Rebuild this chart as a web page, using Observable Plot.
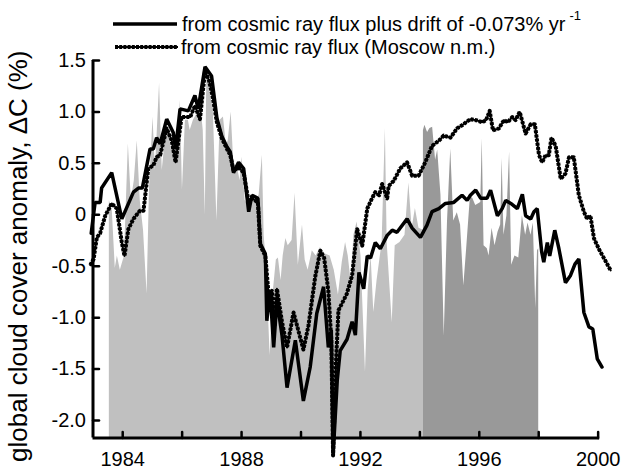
<!DOCTYPE html>
<html>
<head>
<meta charset="utf-8">
<script src="https://cdn.jsdelivr.net/npm/d3@7"></script>
<script src="https://cdn.jsdelivr.net/npm/@observablehq/plot@0.6"></script>
<style>
  html, body { margin: 0; padding: 0; background: #fff; }
  body { width: 621px; height: 470px; overflow: hidden; font-family: "Liberation Sans", Arial, sans-serif; }
  #legend { position: relative; height: 50px; width: 621px; z-index: 1; }
  #legend .row { position: absolute; left: 0; height: 22px; width: 621px; }
  #legend svg { position: absolute; left: 0; top: 0; overflow: visible; }
  #legend .label { position: absolute; font-size: 20px; line-height: 22px; color: #000; white-space: nowrap; }
  #legend sup { font-size: 13px; line-height: 0; position: relative; top: -3px; margin-left: 4px; }
</style>
</head>
<body>
<div id="legend">
  <div class="row" style="top:13px">
    <svg width="621" height="22"><line x1="113" x2="177" y1="11" y2="11" stroke="#000" stroke-width="3.5"/></svg>
    <span class="label" style="left:182px;top:0">from cosmic ray flux plus drift of -0.073% yr<sup>-1</sup></span>
  </div>
  <div class="row" style="top:36px">
    <svg width="621" height="22">
      <line x1="115" x2="178" y1="11" y2="11" stroke="#000" stroke-width="2"/>
      <line x1="115" x2="178" y1="11" y2="11" stroke="#000" stroke-width="4" stroke-dasharray="3,1.2"/>
    </svg>
    <span class="label" style="left:181px;top:0">from cosmic ray flux (Moscow n.m.)</span>
  </div>
</div>
<div id="chart"></div>
<script>
// Cloud cover anomaly (%) predicted from cosmic ray flux, with and without the drift term
const fluxPlusDrift = [
  [1982.94,-0.18],[1983.07,0.12],[1983.24,0.12],[1983.29,0.26],[1983.63,0.41],[1983.97,-0.04],
  [1984.36,0.22],[1984.53,0.26],[1984.66,0.26],[1984.92,0.64],[1985.03,0.64],[1985.14,0.75],
  [1985.26,0.69],[1985.48,0.93],[1985.70,0.80],[1985.78,0.64],[1985.93,1.03],[1986.21,1.01],
  [1986.43,1.16],[1986.54,1.03],[1986.77,1.44],[1986.99,1.35],[1987.17,0.94],[1987.34,0.76],
  [1987.51,0.66],[1987.62,0.61],[1987.73,0.41],[1987.90,0.51],[1988.07,0.45],[1988.24,0.03],
  [1988.35,0.19],[1988.55,0.16],[1988.63,-0.28],[1988.80,-0.38],[1988.85,-1.03],[1988.96,-0.74],
  [1989.08,-1.29],[1989.19,-0.83],[1989.36,-1.17],[1989.53,-1.68],[1989.81,-1.22],[1990.08,-1.81],
  [1990.31,-1.48],[1990.53,-0.96],[1990.76,-0.70],[1990.92,-1.29],[1991.02,-1.12],[1991.08,-2.34],
  [1991.22,-1.61],[1991.32,-1.32],[1991.55,-1.21],[1991.72,-1.04],[1991.83,-1.17],[1991.95,-0.56],
  [1992.11,-0.72],[1992.23,-0.40],[1992.34,-0.42],[1992.50,-0.27],[1992.67,-0.33],[1992.90,-0.20],
  [1993.07,-0.15],[1993.23,-0.17],[1993.57,-0.04],[1993.74,-0.13],[1994.02,-0.22],[1994.24,-0.10],
  [1994.41,0.03],[1994.64,0.06],[1994.86,0.11],[1995.14,0.12],[1995.42,0.19],[1995.59,0.14],
  [1995.70,0.19],[1995.88,0.24],[1996.05,0.16],[1996.26,0.16],[1996.38,0.24],[1996.61,-0.01],
  [1996.77,0.06],[1996.89,0.14],[1997.06,0.11],[1997.28,0.06],[1997.45,0.20],[1997.56,-0.01],
  [1997.73,-0.04],[1997.84,0.03],[1997.95,0.06],[1998.10,-0.36],[1998.17,-0.46],[1998.29,-0.27],
  [1998.37,-0.40],[1998.54,-0.15],[1998.68,-0.33],[1998.90,-0.66],[1999.07,-0.59],[1999.22,-0.48],
  [1999.35,-0.43],[1999.52,-0.95],[1999.69,-1.09],[1999.82,-1.11],[1999.97,-1.40],[2000.13,-1.48]
];

const fluxOnly = [
  [1982.91,-0.49],[1983.02,-0.43],[1983.13,-0.22],[1983.24,-0.18],[1983.41,-0.01],[1983.63,0.11],
  [1983.80,0.06],[1983.97,-0.27],[1984.06,-0.40],[1984.19,-0.14],[1984.36,-0.04],[1984.58,0.04],
  [1984.70,0.04],[1984.86,0.45],[1985.03,0.48],[1985.14,0.56],[1985.26,0.58],[1985.48,0.84],
  [1985.65,0.72],[1985.78,0.51],[1985.98,0.95],[1986.27,0.95],[1986.43,1.06],[1986.60,0.93],
  [1986.77,1.40],[1986.90,1.31],[1987.02,1.16],[1987.17,0.90],[1987.34,0.74],[1987.51,0.64],
  [1987.62,0.58],[1987.73,0.43],[1987.90,0.46],[1988.07,0.41],[1988.24,0.12],[1988.35,0.16],
  [1988.55,0.12],[1988.63,-0.30],[1988.80,-0.40],[1988.91,-0.78],[1989.02,-0.74],[1989.11,-1.08],
  [1989.19,-0.72],[1989.36,-1.04],[1989.53,-1.29],[1989.75,-0.95],[1990.08,-1.31],[1990.25,-1.08],
  [1990.48,-0.60],[1990.65,-0.35],[1990.78,-0.42],[1990.92,-0.74],[1991.02,-1.22],[1991.08,-2.34],
  [1991.18,-1.42],[1991.26,-0.93],[1991.54,-0.77],[1991.72,-0.59],[1991.89,-0.14],[1992.06,-0.30],
  [1992.23,0.06],[1992.39,0.16],[1992.50,0.22],[1992.63,0.19],[1992.73,0.30],[1992.90,0.16],
  [1992.95,0.28],[1993.12,0.33],[1993.34,0.45],[1993.57,0.51],[1993.74,0.38],[1993.96,0.38],
  [1994.18,0.51],[1994.41,0.67],[1994.64,0.72],[1994.80,0.77],[1995.03,0.75],[1995.25,0.84],
  [1995.42,0.87],[1995.70,0.93],[1995.89,0.92],[1996.10,0.90],[1996.23,0.92],[1996.35,1.01],
  [1996.46,0.82],[1996.66,0.84],[1996.83,0.92],[1996.96,0.90],[1997.11,0.95],[1997.22,0.92],
  [1997.36,1.00],[1997.56,0.79],[1997.73,0.88],[1997.87,0.88],[1998.01,0.58],[1998.12,0.51],
  [1998.23,0.58],[1998.34,0.58],[1998.43,0.75],[1998.57,0.67],[1998.74,0.35],[1998.90,0.40],
  [1999.02,0.56],[1999.18,0.56],[1999.35,0.19],[1999.52,0.03],[1999.63,-0.04],[1999.74,-0.01],
  [1999.86,-0.23],[2000.02,-0.33],[2000.42,-0.54]
];

// Observed cloud cover anomaly, first record (light fill)
const cloudFirst = [
  [1983.55,0.14],[1983.65,0.04],[1983.75,-0.52],[1983.82,-0.40],[1983.92,-0.54],[1984.06,-0.40],
  [1984.19,0.69],[1984.29,0.14],[1984.39,0.33],[1984.49,0.72],[1984.59,0.14],[1984.70,-0.15],
  [1984.82,-0.77],[1984.90,0.24],[1985.02,0.95],[1985.10,0.43],[1985.24,1.28],[1985.33,0.43],
  [1985.43,0.72],[1985.54,0.82],[1985.64,0.63],[1985.74,0.82],[1985.84,0.63],[1985.94,1.11],
  [1986.01,0.24],[1986.11,0.92],[1986.21,0.92],[1986.27,0.82],[1986.38,0.92],[1986.48,0.97],
  [1986.61,1.11],[1986.71,0.82],[1986.78,-0.01],[1986.83,1.38],[1986.95,1.18],[1987.05,1.01],
  [1987.17,-0.06],[1987.28,0.92],[1987.39,0.95],[1987.49,0.67],[1987.55,0.72],[1987.65,1.00],
  [1987.75,0.43],[1987.85,0.48],[1987.95,0.33],[1988.02,0.56],[1988.12,0.14],[1988.23,0.09],
  [1988.36,0.19],[1988.49,0.14],[1988.59,0.19],[1988.70,0.58],[1988.76,-0.20],[1988.85,-0.54],
  [1988.96,-1.37],[1989.07,-0.74],[1989.17,-0.44],[1989.24,-0.42],[1989.33,-0.64],[1989.40,-0.40],
  [1989.49,-0.23],[1989.57,-0.30],[1989.70,-0.25],[1989.80,0.21],[1989.91,-0.49],[1990.05,-0.10],
  [1990.14,-0.44],[1990.24,-0.54],[1990.38,-0.35],[1990.51,-0.40],[1990.65,-0.32],[1990.82,-0.38],
  [1990.98,-0.40],[1991.12,-0.54],[1991.26,-0.78],[1991.39,-0.46],[1991.50,-0.27],[1991.59,-0.40],
  [1991.69,-0.66],[1991.78,-0.20],[1991.89,-0.07],[1992.02,-0.40],[1992.17,-1.53],[1992.26,-0.74],
  [1992.36,-0.40],[1992.45,-0.95],[1992.56,-0.64],[1992.73,-0.27],[1992.84,0.84],[1992.90,-0.27],
  [1993.07,-1.05],[1993.17,-0.30],[1993.33,-0.27],[1993.50,-0.20],[1993.63,0.31],[1993.74,-0.13],
  [1993.85,0.06],[1993.97,-0.13],[1994.12,-0.15]
];

// Observed cloud cover anomaly, second record (dark fill)
const cloudSecond = [
  [1994.12,0.82],[1994.17,0.87],[1994.26,0.80],[1994.34,0.84],[1994.43,0.85],[1994.53,0.53],
  [1994.60,0.63],[1994.71,0.19],[1994.82,-1.18],[1994.93,-0.07],[1995.04,0.64],[1995.14,-0.06],
  [1995.26,0.02],[1995.37,-0.10],[1995.48,-0.69],[1995.57,-0.35],[1995.70,0.17],[1995.78,0.16],
  [1995.88,0.09],[1996.05,0.12],[1996.10,0.74],[1996.16,-0.30],[1996.27,-0.33],[1996.33,-0.40],
  [1996.43,-0.13],[1996.53,-0.30],[1996.63,-0.17],[1996.72,-0.10],[1996.77,0.55],[1996.83,-0.20],
  [1996.93,-0.01],[1997.02,0.61],[1997.09,-0.49],[1997.20,-0.40],[1997.33,-0.42],[1997.45,-0.01],
  [1997.56,-0.20],[1997.64,-0.08],[1997.74,-0.20],[1997.82,-0.08],[1997.90,-0.91],[1997.96,-0.35],
  [1998.00,-0.33]
];

const xTickYears = [1984, 1986, 1988, 1990, 1992, 1994, 1996, 1998, 2000];
const xLabelYears = [1984, 1988, 1992, 1996, 2000];
const yTickValues = [1.5, 1.0, 0.5, 0, -0.5, -1.0, -1.5, -2.0];
const yTitle = "global cloud cover anomaly, \u0394C (%)";

const xStart = 1983, xAxisEnd = 2000.05;
const yMin = -2.17, yMax = 1.5;

// short inward tick drawn from the anchor point
const inwardTick = {
  draw(context, length) {
    context.moveTo(0, 0);
    context.lineTo(0, -length);
  }
};

const xy = {x: d => d[0], y: d => d[1]};

const chart = Plot.plot({
  width: 621,
  height: 420,
  marginLeft: 92.5,
  marginRight: 8.5,
  marginTop: 10,
  marginBottom: 32.5,
  x: {domain: [xStart, 2000.5]},
  y: {domain: [yMin, yMax]},
  style: {fontFamily: "'Liberation Sans', Arial, sans-serif", background: "transparent", overflow: "visible"},
  marks: [
    Plot.areaY(cloudFirst, {x: d => d[0], y1: yMin, y2: d => d[1], fill: "#c0c0c0"}),
    Plot.areaY(cloudSecond, {x: d => d[0], y1: yMin, y2: d => d[1], fill: "#999999"}),
    // flux-only curve: solid core with bead-like dashes on top
    Plot.line(fluxOnly, {...xy, stroke: "#000", strokeWidth: 2}),
    Plot.line(fluxOnly, {...xy, stroke: "#000", strokeWidth: 4, strokeDasharray: "3,1.2", strokeLinecap: "butt"}),
    Plot.line(fluxPlusDrift, {...xy, stroke: "#000", strokeWidth: 3.5, strokeLinejoin: "miter"}),
    // axis lines
    Plot.ruleY([yMin], {x1: xStart, x2: xAxisEnd, stroke: "#000", strokeWidth: 3}),
    Plot.ruleX([xStart], {y1: yMin, y2: yMax, stroke: "#000", strokeWidth: 3}),
    // inward ticks
    Plot.vector(xTickYears, {x: d => d, y: yMin, length: 6, rotate: 0, anchor: "start", shape: inwardTick, stroke: "#000", strokeWidth: 2.5}),
    Plot.vector(yTickValues, {x: xStart, y: d => d, length: 6, rotate: 90, anchor: "start", shape: inwardTick, stroke: "#000", strokeWidth: 2.5}),
    // tick labels
    Plot.axisX({ticks: xLabelYears, tickSize: 0, tickPadding: 14, tickFormat: d => String(d), fontSize: 20, label: null}),
    Plot.axisY({ticks: yTickValues, tickSize: 0, tickPadding: 7, tickFormat: d => d === 0 ? "0" : d.toFixed(1), fontSize: 20, label: null}),
    Plot.text([yTitle], {frameAnchor: "left", textAnchor: "middle", rotate: -90, dx: -74, dy: 7, fontSize: 26})
  ]
});

document.getElementById("chart").appendChild(chart);
</script>
</body>
</html>
